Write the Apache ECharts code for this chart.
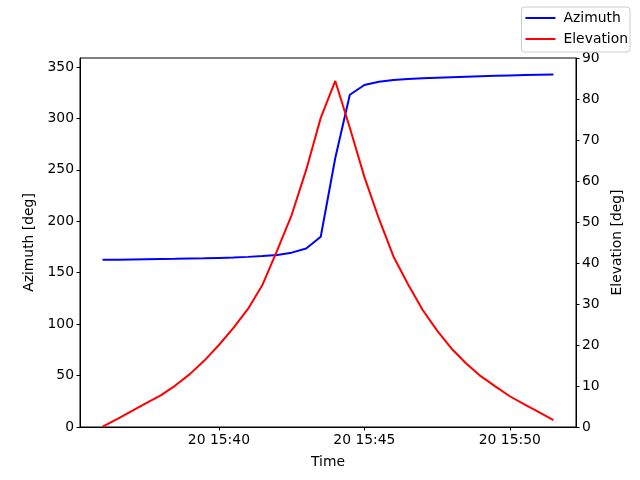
<!DOCTYPE html>
<html>
<head>
<meta charset="utf-8">
<script src="https://cdn.jsdelivr.net/npm/echarts@6/dist/echarts.min.js"></script>
<style>html,body{margin:0;padding:0;background:#fff}#c{width:640px;height:480px}</style>
</head>
<body>
<div id="c"></div>
<script>
const times = ["15:36:00","15:36:30","15:37:00","15:37:30","15:38:00","15:38:30","15:39:00","15:39:30",
  "15:40:00","15:40:30","15:41:00","15:41:30","15:42:00","15:42:30","15:43:00","15:43:30",
  "15:44:00","15:44:30","15:45:00","15:45:30","15:46:00","15:46:30","15:47:00","15:47:30",
  "15:48:00","15:48:30","15:49:00","15:49:30","15:50:00","15:50:30","15:51:00","15:51:30"];
const azimuth = [162.5,162.7,162.9,163.1,163.3,163.5,163.8,164.0,164.4,164.8,165.4,166.2,167.3,169.5,173.5,185.0,
  261.5,323.0,332.5,335.7,337.4,338.3,339.0,339.6,340.1,340.6,341.0,341.4,341.8,342.2,342.5,342.8];
const elevation = [0.1,1.9,3.9,5.8,7.7,10.1,12.9,16.2,20.0,24.2,28.8,34.7,43.0,51.7,62.7,75.4,
  84.4,73.0,61.0,50.8,41.6,34.8,28.6,23.5,19.1,15.5,12.4,9.9,7.5,5.5,3.6,1.7];
const xTicks = ["15:40","15:45","15:50"];
const dayLabel = "20";

function toMin(s){const p=s.split(':').map(Number);return p[0]*60+p[1]+(p[2]||0)/60;}
const xs = times.map(toMin);
const azData = xs.map((x,i)=>[x,azimuth[i]]);
const elData = xs.map((x,i)=>[x,elevation[i]]);
const span = xs[xs.length-1]-xs[0];
const font = 'DejaVu Sans';
const fs = 13.9;

const chart = echarts.init(document.getElementById('c'), null, {renderer:'canvas'});
chart.setOption({
  animation:false,
  backgroundColor:'#fff',
  textStyle:{fontFamily:font},
  grid:{left:80,right:64,top:58,bottom:53,show:true,borderColor:'#000',borderWidth:1,backgroundColor:'transparent'},
  legend:{
    orient:'vertical', right:7, top:7,
    data:[{name:'Azimuth',icon:'rect'},{name:'Elevation',icon:'rect'}],
    itemWidth:30, itemHeight:2, itemGap:7,
    padding:[4,2,6,4],
    borderColor:'#cccccc', borderWidth:1, borderRadius:3, backgroundColor:'rgba(255,255,255,0.8)',
    textStyle:{fontFamily:font,fontSize:fs,color:'#000',padding:[0,0,0,3]}
  },
  xAxis:{
    type:'value', min:xs[0]-0.05*span, max:xs[xs.length-1]+0.05*span,
    name:'Time', nameLocation:'middle', nameGap:28,
    nameTextStyle:{fontFamily:font,fontSize:fs,color:'#000'},
    axisLine:{show:true,lineStyle:{color:'#000',width:1}},
    axisTick:{show:true,length:3.5,customValues:xTicks.map(toMin),lineStyle:{color:'#000'}},
    axisLabel:{show:true,margin:6,fontFamily:font,fontSize:fs,color:'#000',customValues:xTicks.map(toMin),
      formatter:function(v){const h=Math.floor(v/60),m=Math.round(v-h*60);return dayLabel+' '+h+':'+String(m).padStart(2,'0');}},
    splitLine:{show:false}
  },
  yAxis:[{
    type:'value', min:0, max:358.75, interval:50, position:'left',
    name:'Azimuth [deg]', nameLocation:'middle', nameGap:43, nameRotate:90,
    nameTextStyle:{fontFamily:font,fontSize:fs,color:'#000'},
    axisLine:{show:true,lineStyle:{color:'#000',width:1}},
    axisTick:{show:true,length:3.5,lineStyle:{color:'#000'}},
    axisLabel:{margin:6,fontFamily:font,fontSize:fs,color:'#000',showMaxLabel:false},
    splitLine:{show:false}
  },{
    type:'value', min:0, max:90, interval:10, position:'right',
    name:'Elevation [deg]', nameLocation:'middle', nameGap:33, nameRotate:90,
    nameTextStyle:{fontFamily:font,fontSize:fs,color:'#000'},
    axisLine:{show:true,lineStyle:{color:'#000',width:1}},
    axisTick:{show:true,length:3.5,lineStyle:{color:'#000'}},
    axisLabel:{margin:6,fontFamily:font,fontSize:fs,color:'#000'},
    splitLine:{show:false}
  }],
  series:[{
    name:'Azimuth', type:'line', yAxisIndex:0, data:azData, showSymbol:false, symbol:'none',
    lineStyle:{color:'#0000ff',width:2}, itemStyle:{color:'#0000ff'}, z:2
  },{
    name:'Elevation', type:'line', yAxisIndex:1, data:elData, showSymbol:false, symbol:'none',
    lineStyle:{color:'#ff0000',width:2}, itemStyle:{color:'#ff0000'}, z:3
  }]
});
chart.setOption({legend:{right:10}});
</script>
</body>
</html>
